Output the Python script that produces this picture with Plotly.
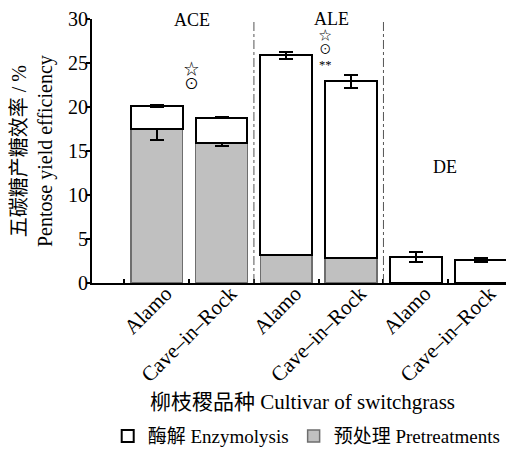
import plotly.graph_objects as go

cultivars = ["Alamo", "Cave–in–Rock", "Alamo", "Cave–in–Rock", "Alamo", "Cave–in–Rock"]
groups = ["ACE", "ALE", "DE"]
pretreat = [17.5, 15.9, 3.15, 2.8, 0.0, 0.0]
pretreat_err = [1.2, 0.3, 0.0, 0.0, 0.0, 0.0]
enzymolysis = [2.6, 2.9, 22.75, 20.1, 2.95, 2.63]
total_err = [0.15, 0.1, 0.4, 0.75, 0.6, 0.2]

xpos = [1, 2, 3, 4, 5, 6]
FONT = "Liberation Serif, Times New Roman, Noto Sans CJK SC, serif"

fig = go.Figure()
fig.add_trace(go.Bar(
    x=xpos, y=pretreat, name="预处理 Pretreatments", width=0.8,
    marker=dict(color="#c0c0c0", line=dict(color="#6e6e6e", width=1.5)),
    error_y=dict(type="data", array=pretreat_err, color="black", thickness=2, width=7),
))
fig.add_trace(go.Bar(
    x=xpos, y=enzymolysis, name="酶解 Enzymolysis", width=0.8,
    marker=dict(color="white", line=dict(color="black", width=2)),
    error_y=dict(type="data", array=total_err, color="black", thickness=2, width=7),
))

for xv in [2.5, 4.5]:
    fig.add_shape(type="line", xref="x", yref="y", x0=xv, x1=xv, y0=0, y1=30,
                  line=dict(color="#555555", width=1, dash="dashdot"))

# group labels
for x, y, ys, t in [(1.54, 30, -1, groups[0]), (3.70, 30, 0, groups[1]), (5.45, 13.2, 0, groups[2])]:
    fig.add_annotation(x=x, y=y, yshift=ys, text=t, showarrow=False, xref="x", yref="y",
                       font=dict(family=FONT, size=18, color="black"))

# significance symbols
sym = '<span style="font-size:15px">%s</span>'
fig.add_annotation(x=1.54, y=23.5, text=sym % "☆" + "<br>" + sym % "⊙",
                   showarrow=False, xref="x", yref="y",
                   font=dict(family=FONT, size=11.5, color="black"))
sym2 = '<span style="font-size:12.5px">%s</span>'
fig.add_annotation(x=3.6, y=26.4,
                   text=sym2 % "☆" + "<br>" + sym2 % "⊙" + "<br>" + sym2 % "**",
                   showarrow=False, xref="x", yref="y",
                   font=dict(family=FONT, size=11, color="black"))

# y-axis title (two lines)
fig.add_annotation(x=-0.1425, y=0.5, xref="paper", yref="paper", textangle=-90,
                   xanchor="center", yanchor="middle", showarrow=False,
                   text='<span style="font-size:20px">五碳糖产糖效率 / %</span><br>Pentose yield efficiency',
                   font=dict(family=FONT, size=20, color="black"))

fig.update_layout(
    width=506, height=443,
    margin=dict(l=84, r=1, t=11, b=168, autoexpand=False),
    barmode="stack",
    plot_bgcolor="white", paper_bgcolor="white",
    font=dict(family=FONT, size=18, color="black"),
    showlegend=True,
    legend=dict(orientation="h", x=0.51, xanchor="center", y=-0.58, yanchor="middle",
                traceorder="reversed", font=dict(family=FONT, size=19), itemwidth=30),
    xaxis=dict(
        range=[0, 6.5], tickmode="array", tickvals=xpos, ticktext=cultivars,
        tickangle=-45, ticks="", showline=True, linecolor="black", linewidth=2,
        tickfont=dict(family=FONT, size=21), showgrid=False, zeroline=False,
        automargin=False, ticklabelshift=9, ticklabelstandoff=-12,
        minor=dict(tickmode="array", tickvals=[0.5, 1.5, 2.5, 3.5, 4.5, 5.5, 6.5],
                   ticks="inside", ticklen=4, tickcolor="black", tickwidth=1.5),
        title=dict(text="柳枝稷品种 Cultivar of switchgrass", font=dict(family=FONT, size=21), standoff=8),
    ),
    yaxis=dict(
        range=[0, 30], tickvals=[0, 5, 10, 15, 20, 25, 30], ticks="outside",
        ticklen=4, tickwidth=1.5, tickcolor="black", showline=True, linecolor="black",
        linewidth=2, showgrid=False, zeroline=False, tickfont=dict(family=FONT, size=20),
        automargin=False, ticklabelstandoff=-6, ticklabeloverflow="allow",
    ),
)

fig.write_html("out.html")
